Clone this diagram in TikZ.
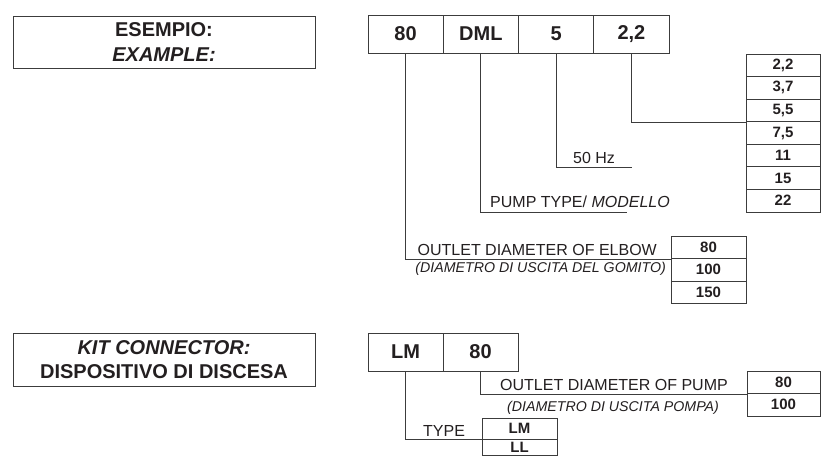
\documentclass[tikz,border=0pt]{standalone}
\usepackage{fontspec}
\setmainfont{Liberation Sans}
\definecolor{inkc}{HTML}{231F20}
\definecolor{linec}{HTML}{3C3C3C}
\begin{document}
\begin{tikzpicture}[x=1pt,y=-1pt,
  cellbig/.style={draw=linec, line width=0.9pt, minimum width=75.25pt, minimum height=38pt, inner sep=0pt, font=\fontsize{20}{24}\selectfont\bfseries, text=inkc},
  cellsmall/.style={draw=linec, line width=0.9pt, minimum width=74pt, minimum height=22.57pt, inner sep=0pt, font=\fontsize{15}{18}\selectfont\bfseries, text=inkc},
  lbl/.style={inner sep=0pt, font=\fontsize{16}{19}\selectfont, text=inkc},
  lbli/.style={inner sep=0pt, font=\fontsize{14.2}{17}\selectfont\itshape, text=inkc},
  conn/.style={draw=linec, line width=0.9pt},
  headbox/.style={draw=linec, line width=0.9pt, minimum width=302pt, inner sep=0pt, align=center, font=\fontsize{20}{24.5}\selectfont\bfseries, text=inkc}]
\useasboundingbox (0,0) rectangle (821,456);

% header boxes
\node[headbox, minimum height=52pt] (hd1) at (164,42) {ESEMPIO:\\\textit{EXAMPLE:}};
\node[headbox, minimum height=53pt] (hd2) at (164,359.5) {\textit{KIT CONNECTOR:}\\DISPOSITIVO DI DISCESA};

% top code row
\node[cellbig] (t80) at (405.6,34) {80};
\node[cellbig] (tdml) at (480.9,34) {DML};
\node[cellbig] (t5) at (556.1,34) {5};
\node[cellbig] (t22) at (631.4,34) {2,2};

% power list
\node[cellsmall] (l1) at (783,65.3) {2,2};
\node[cellsmall] (l2) at (783,87.9) {3,7};
\node[cellsmall] (l3) at (783,110.4) {5,5};
\node[cellsmall] (l4) at (783,133.0) {7,5};
\node[cellsmall] (l5) at (783,155.6) {11};
\node[cellsmall] (l6) at (783,178.1) {15};
\node[cellsmall] (l7) at (783,200.7) {22};

% elbow list
\node[cellsmall, minimum width=75pt, minimum height=22.5pt] (e1) at (708.5,247.25) {80};
\node[cellsmall, minimum width=75pt, minimum height=22.5pt] (e2) at (708.5,269.75) {100};
\node[cellsmall, minimum width=75pt, minimum height=22.5pt] (e3) at (708.5,292.25) {150};

% bottom code row
\node[cellbig, minimum width=75pt] (bLM) at (405.5,352) {LM};
\node[cellbig, minimum width=75pt] (b80) at (480.5,352) {80};

% pump list
\node[cellsmall, minimum width=73pt, minimum height=22.5pt] (p1) at (783.5,382.25) {80};
\node[cellsmall, minimum width=73pt, minimum height=22.5pt] (p2) at (783.5,404.75) {100};

% type list
\node[cellsmall, minimum width=75pt, minimum height=21pt] (ty1) at (519.5,428.5) {LM};
\node[cellsmall, minimum width=75pt, minimum height=16.5pt] (ty2) at (519.5,447.25) {LL};

% connectors
\coordinate (dmlend) at (627,212);
\coordinate (hzend) at (632,167);
\draw[conn] (t80.south) |- (e1.south west);
\draw[conn] (tdml.south) |- (dmlend);
\draw[conn] (t5.south) |- (hzend);
\draw[conn] (t22.south) |- (l3.south west);
\draw[conn] (bLM.south) |- (ty1.south west);
\draw[conn] (b80.south) |- (p1.south west);

% labels
\node[lbl, anchor=base west] (hz) at (573,163) {50 Hz};
\node[lbl, anchor=base west] (pt) at (490,207) {PUMP TYPE/ \textit{MODELLO}};
\node[lbl, anchor=base east] (oe) at (657,255) {OUTLET DIAMETER OF ELBOW};
\node[lbli, anchor=base east] (oei) at (666,272) {(DIAMETRO DI USCITA DEL GOMITO)};
\node[lbl, anchor=base west] (op) at (500,390) {OUTLET DIAMETER OF PUMP};
\node[lbli, anchor=base west] (opi) at (507,411) {(DIAMETRO DI USCITA POMPA)};
\node[lbl, anchor=base west] (tyl) at (423,436) {TYPE};
\end{tikzpicture}
\end{document}
